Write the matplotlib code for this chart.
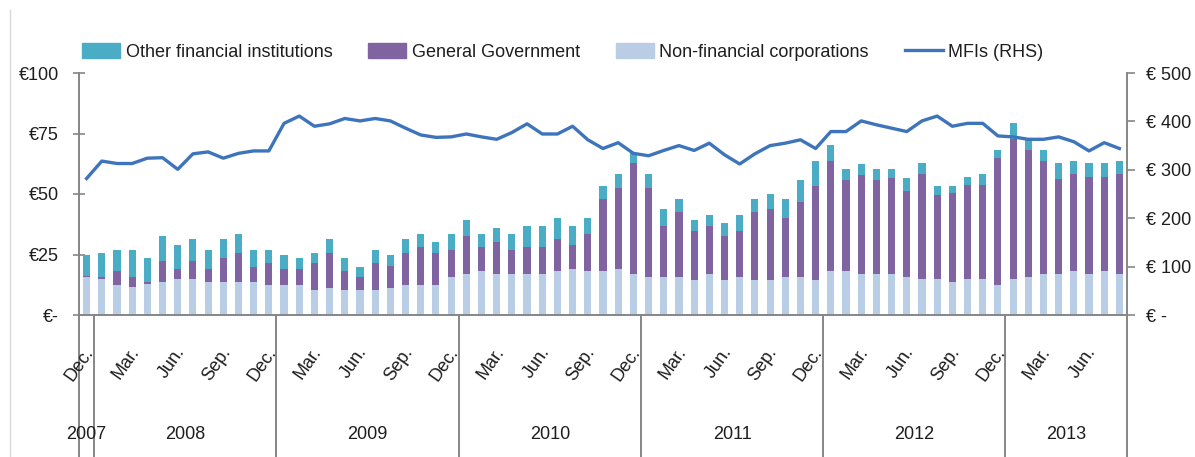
import matplotlib
matplotlib.use("Agg")
import matplotlib.pyplot as plt
import matplotlib.transforms as mtransforms
from matplotlib.patches import Patch
from matplotlib.lines import Line2D
import numpy as np
import pandas as pd

# monthly categories, Dec 2007 .. Aug 2013
months = pd.date_range("2007-12-01", periods=69, freq="MS")
month_labels = {12: "Dec.", 3: "Mar.", 6: "Jun.", 9: "Sep."}
years = ["2007", "2008", "2009", "2010", "2011", "2012", "2013"]

# EUR bn, left axis (stacked)
non_financial = [15.9, 14.8, 12.4, 11.5, 12.7, 13.6, 14.8, 14.8, 13.6, 13.6, 13.6, 13.6, 12.4,
                 12.4, 12.4, 10.2, 11.3, 10.2, 10.2, 10.2, 11.3, 12.4, 12.4, 12.4, 15.9,
                 16.9, 18.0, 16.9, 16.9, 16.9, 16.9, 18.0, 19.1, 18.0, 18.0, 19.1, 16.9,
                 15.9, 15.9, 15.9, 14.5, 16.9, 14.5, 15.8, 14.5, 14.5, 15.8, 15.8, 14.5,
                 18.0, 18.0, 16.9, 16.9, 16.9, 15.9, 14.8, 14.8, 13.7, 14.8, 14.8, 12.6,
                 14.8, 15.9, 17.0, 17.0, 18.0, 17.0, 18.0, 17.0]
general_gov = [0.3, 1.1, 5.6, 4.4, 0.9, 8.9, 4.3, 7.7, 5.5, 9.9, 12.0, 6.4, 9.0,
               6.7, 6.7, 11.2, 14.3, 7.8, 5.7, 11.2, 9.0, 13.2, 15.7, 13.2, 11.1,
               15.6, 10.1, 13.3, 10.1, 11.2, 11.2, 13.4, 9.9, 15.6, 30.0, 33.5, 45.8,
               36.7, 21.0, 26.5, 20.2, 20.0, 18.0, 18.9, 27.9, 29.1, 24.4, 31.1, 39.0,
               45.5, 37.7, 41.1, 38.8, 39.9, 35.5, 43.3, 34.6, 36.8, 38.9, 38.9, 52.3,
               57.8, 52.3, 46.6, 39.0, 40.1, 40.0, 39.0, 41.1]
other_fin = [8.6, 9.7, 9.0, 11.1, 9.9, 10.0, 9.9, 8.9, 7.9, 7.9, 7.9, 7.0, 5.6,
             5.5, 4.4, 4.2, 5.8, 5.5, 4.1, 5.6, 4.3, 5.8, 5.4, 4.6, 6.5,
             6.6, 5.4, 5.6, 6.6, 8.8, 8.8, 8.8, 7.9, 6.6, 5.5, 5.5, 4.4,
             5.5, 6.7, 5.6, 4.4, 4.5, 5.5, 6.7, 5.6, 6.6, 7.8, 8.8, 10.0,
             6.6, 4.5, 4.4, 4.5, 3.4, 5.4, 4.6, 4.1, 3.0, 3.3, 4.4, 3.3,
             6.7, 4.1, 4.6, 6.7, 5.5, 5.7, 5.7, 5.5]
# EUR bn, right axis
mfis = [282, 318, 313, 313, 324, 325, 301, 333, 337, 324, 334, 339, 339,
        396, 411, 390, 395, 406, 401, 406, 401, 386, 372, 367, 368,
        374, 368, 363, 377, 395, 374, 374, 390, 362, 344, 356, 334,
        329, 340, 350, 340, 355, 331, 312, 333, 350, 355, 362, 344,
        379, 379, 401, 393, 386, 379, 401, 411, 390, 396, 396, 370,
        368, 363, 363, 368, 358, 339, 356, 344]

C_OFI = "#4BACC6"
C_GG = "#8064A2"
C_NFC = "#B9CDE5"
C_MFI = "#3D74BB"
C_AX = "#868686"
C_TXT = "#1E1E1E"

plt.rcParams["font.family"] = ["Liberation Sans", "DejaVu Sans"]

fig = plt.figure(figsize=(11.95, 4.57), dpi=100)
ax = fig.add_axes([79 / 1195, 142 / 457, 1048 / 1195, 242 / 457])
ax2 = ax.twinx()

x = np.arange(len(months))
nfc = np.array(non_financial)
gg = np.array(general_gov)
ofi = np.array(other_fin)
w = 0.47
ax.bar(x, nfc, w, color=C_NFC, zorder=2)
ax.bar(x, gg, w, bottom=nfc, color=C_GG, zorder=2)
ax.bar(x, ofi, w, bottom=nfc + gg, color=C_OFI, zorder=2)
ax2.plot(x, mfis, color=C_MFI, lw=2.4, solid_joinstyle="round")

ax.set_xlim(-0.5, len(months) - 0.5)
ax.set_ylim(0, 100)
ax2.set_ylim(0, 500)

ax.set_yticks([0, 25, 50, 75, 100])
ax.set_yticklabels(["€-", "€25", "€50", "€75", "€100"])
ax2.set_yticks([0, 100, 200, 300, 400, 500])
ax2.set_yticklabels(["€ -", "€ 100", "€ 200", "€ 300", "€ 400", "€ 500"])
ax.tick_params(axis="y", direction="inout", length=9, width=1.2, color=C_AX,
               labelsize=13, labelcolor=C_TXT, pad=10)
ax2.tick_params(axis="y", direction="out", length=6, width=1.2, color=C_AX,
                labelsize=13, labelcolor=C_TXT, pad=8)
ax.set_xticks([])

for a in (ax, ax2):
    a.spines["top"].set_visible(False)
    for s in ("left", "right", "bottom"):
        a.spines[s].set_color(C_AX)
        a.spines[s].set_linewidth(1.4)
ax.spines["right"].set_visible(False)
ax2.spines["left"].set_visible(False)
ax2.spines["bottom"].set_visible(False)

# multi-level category axis
trans = mtransforms.blended_transform_factory(ax.transData, ax.transAxes)
for i, d in enumerate(months):
    if d.month in month_labels:
        ax.text(i + 0.25, -0.14, month_labels[d.month], transform=trans, rotation=55,
                rotation_mode="anchor", ha="right", va="center", fontsize=13,
                color=C_TXT)

year_bounds = [-0.5] + [i - 0.5 for i, d in enumerate(months) if d.month == 1] + [len(months) - 0.5]
for b in year_bounds:
    ax.plot([b, b], [0, -0.6], transform=trans, color=C_AX, lw=1.4, clip_on=False)
year_centers = [0] + [(year_bounds[k] + year_bounds[k + 1]) / 2 for k in range(1, len(year_bounds) - 1)]
for yr, xc in zip(years, year_centers):
    ax.text(xc, -0.495, yr, transform=trans, ha="center", va="center",
            fontsize=13, color=C_TXT)

# faint chart border
fig.add_artist(Line2D([10 / 1195, 10 / 1195], [0, 447 / 457], color="#D9D9D9", lw=1))

handles = [Patch(color=C_OFI), Patch(color=C_GG), Patch(color=C_NFC),
           Line2D([0], [0], color=C_MFI, lw=2.4)]
labels = ["Other financial institutions", "General Government",
          "Non-financial corporations", "MFIs (RHS)"]
fig.legend(handles, labels, loc="center", bbox_to_anchor=(0.471, 0.887), ncol=4,
           frameon=False, fontsize=13, handlelength=2.1, handleheight=0.9,
           columnspacing=2.0, handletextpad=0.3, labelcolor=C_TXT)

fig.savefig("out.png", dpi=100)
